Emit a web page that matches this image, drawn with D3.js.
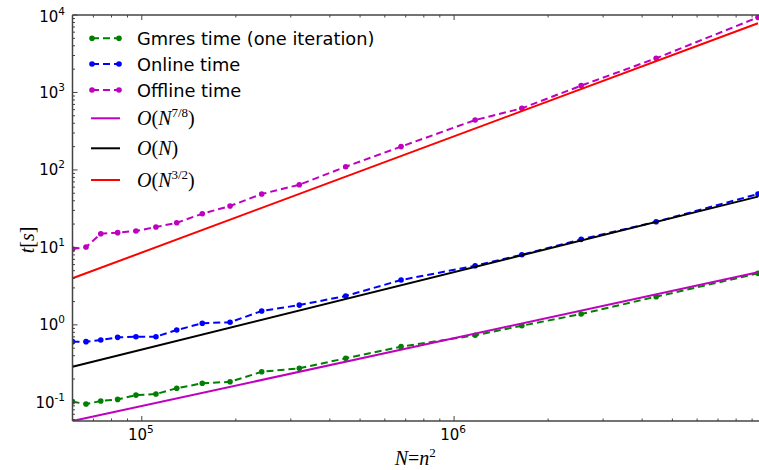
<!DOCTYPE html>
<html>
<head>
<meta charset="utf-8">
<script src="https://cdn.jsdelivr.net/npm/d3@7"></script>
<style>
  html, body { margin: 0; padding: 0; background: #fff; }
  svg { display: block; }
</style>
</head>
<body>
<svg id="chart" width="759" height="470"></svg>
<script>
// Problem size N = n^2 at each run
const sizeN = [60000, 66300, 73900, 83700, 95800, 111000, 129400, 156200, 191700,
               242100, 319500, 449900, 676500, 1168000, 1648000, 2552000, 4436000, 9400000];

// Measured times in seconds
const gmresTime   = [0.102, 0.095, 0.104, 0.109, 0.124, 0.128, 0.152, 0.176, 0.184,
                     0.248, 0.275, 0.370, 0.523, 0.733, 0.975, 1.38, 2.31, 4.62];
const onlineTime  = [0.607, 0.607, 0.637, 0.690, 0.703, 0.703, 0.857, 1.05, 1.08,
                     1.51, 1.80, 2.36, 3.79, 5.80, 8.05, 12.7, 21.4, 48.9];
const offlineTime = [9.53, 10.1, 15.0, 15.5, 16.3, 18.3, 20.8, 27.2, 34.2,
                     48.9, 64.4, 110, 200, 441, 624, 1225, 2760, 9330];

// Complexity guide lines: values at the two ends of the N range
const guideN   = [60000, 9400000];
const guide78  = [0.0574, 4.78];
const guide1   = [0.288, 45.2];
const guide32  = [3.99, 7826];

// Axis ticks (powers of ten)
const xTickExp = [5, 6];
const yTickExp = [-1, 0, 1, 2, 3, 4];

(function draw() {
  const svg = d3.select("#chart");
  const W = 759, H = 470;
  const pLeft = 72.5, pRight = 758, pTop = 15, pBottom = 421;

  const x = d3.scaleLog().domain([60000, 9400000]).range([pLeft, pRight]);
  const y = d3.scaleLog().domain([0.0574, 1e4]).range([pBottom, pTop]);

  svg.append("rect").attr("width", W).attr("height", H).attr("fill", "#fff");

  svg.append("clipPath").attr("id", "plotClip")
    .append("rect").attr("x", pLeft).attr("y", pTop)
    .attr("width", W - pLeft).attr("height", pBottom - pTop);

  const plot = svg.append("g").attr("clip-path", "url(#plotClip)");

  const line = d3.line().x(d => x(d[0])).y(d => y(d[1]));

  const series = [
    { name: "Gmres time (one iteration)", values: gmresTime, color: "#008000" },
    { name: "Online time", values: onlineTime, color: "#0000ff" },
    { name: "Offline time", values: offlineTime, color: "#bf00bf" }
  ];
  const guides = [
    { values: guide78, color: "#bf00bf", exp: "7/8" },
    { values: guide1, color: "#000000", exp: null },
    { values: guide32, color: "#ff0000", exp: "3/2" }
  ];

  // Measured series: dashed line with dot markers
  series.forEach(s => {
    const pts = sizeN.map((n, i) => [n, s.values[i]]);
    plot.append("path").datum(pts)
      .attr("d", line)
      .attr("fill", "none")
      .attr("stroke", s.color)
      .attr("stroke-width", 2)
      .attr("stroke-dasharray", "7,4");
    plot.selectAll(null).data(pts).enter().append("circle")
      .attr("cx", d => x(d[0])).attr("cy", d => y(d[1]))
      .attr("r", 2.8).attr("fill", s.color);
  });

  // Complexity guide lines
  guides.forEach(g => {
    const pts = guideN.map((n, i) => [n, g.values[i]]);
    plot.append("path").datum(pts)
      .attr("d", line)
      .attr("fill", "none")
      .attr("stroke", g.color)
      .attr("stroke-width", 2);
  });

  // Frame
  const axisColor = "#444";
  svg.append("line").attr("x1", pLeft).attr("x2", pLeft).attr("y1", pTop).attr("y2", pBottom)
    .attr("stroke", axisColor).attr("stroke-width", 1.5);
  svg.append("line").attr("x1", pLeft).attr("x2", W).attr("y1", pBottom).attr("y2", pBottom)
    .attr("stroke", axisColor).attr("stroke-width", 1.5);
  svg.append("line").attr("x1", pLeft).attr("x2", W).attr("y1", pTop).attr("y2", pTop)
    .attr("stroke", axisColor).attr("stroke-width", 1.5);

  // Minor and major ticks, pointing inward
  const ticks = svg.append("g").attr("stroke", axisColor).attr("stroke-width", 1);
  const xMinor = [], yMinor = [];
  for (let e = 4; e <= 6; e++) for (let m = 2; m <= 9; m++) {
    const v = m * Math.pow(10, e);
    if (v >= 60000 && v <= 9400000) xMinor.push(v);
  }
  for (let e = -2; e <= 3; e++) for (let m = 2; m <= 9; m++) {
    const v = m * Math.pow(10, e);
    if (v >= 0.0574 && v <= 1e4) yMinor.push(v);
  }
  xMinor.forEach(v => {
    ticks.append("line").attr("x1", x(v)).attr("x2", x(v)).attr("y1", pBottom).attr("y2", pBottom - 2.5);
    ticks.append("line").attr("x1", x(v)).attr("x2", x(v)).attr("y1", pTop).attr("y2", pTop + 2.5);
  });
  xTickExp.forEach(e => {
    const v = Math.pow(10, e);
    ticks.append("line").attr("x1", x(v)).attr("x2", x(v)).attr("y1", pBottom).attr("y2", pBottom - 5);
    ticks.append("line").attr("x1", x(v)).attr("x2", x(v)).attr("y1", pTop).attr("y2", pTop + 5);
  });
  yMinor.forEach(v => {
    ticks.append("line").attr("x1", pLeft).attr("x2", pLeft + 2.5).attr("y1", y(v)).attr("y2", y(v));
  });
  yTickExp.forEach(e => {
    const v = Math.pow(10, e);
    ticks.append("line").attr("x1", pLeft).attr("x2", pLeft + 5).attr("y1", y(v)).attr("y2", y(v));
  });

  // Tick labels of the form 10^k
  const tickFont = "DejaVu Sans, sans-serif";
  function powerLabel(sel, e) {
    sel.append("tspan").text("10");
    sel.append("tspan").attr("dy", -7).attr("font-size", 10.5).text(String(e));
  }
  xTickExp.forEach(e => {
    const t = svg.append("text")
      .attr("x", x(Math.pow(10, e)) - 1).attr("y", 439.5)
      .attr("text-anchor", "middle")
      .attr("font-family", tickFont).attr("font-size", 15).attr("fill", "#000");
    powerLabel(t, e);
  });
  yTickExp.forEach(e => {
    const yy = y(Math.pow(10, e)) + 5.5 + (e === 4 ? 1.5 : 0);
    const t = svg.append("text")
      .attr("x", 65).attr("y", yy)
      .attr("text-anchor", "end")
      .attr("font-family", tickFont).attr("font-size", 15).attr("fill", "#000");
    powerLabel(t, e);
  });

  // Axis titles
  const mathFont = "Liberation Serif, DejaVu Serif, serif";
  const xt = svg.append("text")
    .attr("x", (pLeft + pRight) / 2).attr("y", 465)
    .attr("text-anchor", "middle")
    .attr("font-family", mathFont).attr("font-size", 20).attr("fill", "#000");
  xt.append("tspan").attr("font-style", "italic").text("N");
  xt.append("tspan").text("=");
  xt.append("tspan").attr("font-style", "italic").text("n");
  xt.append("tspan").attr("dy", -8).attr("font-size", 13).text("2");

  const yt = svg.append("text")
    .attr("transform", "translate(34,240) rotate(-90)")
    .attr("text-anchor", "middle")
    .attr("font-family", mathFont).attr("font-size", 20).attr("fill", "#000");
  yt.append("tspan").attr("font-style", "italic").text("t");
  yt.append("tspan").text("[");
  yt.append("tspan").attr("font-style", "italic").text("s");
  yt.append("tspan").text("]");

  // Legend (no frame)
  const legend = svg.append("g");
  const hx0 = 92, hx1 = 119, tx = 137;
  const rowY = [38.3, 64, 90, 118.3, 148.3, 180];
  series.forEach((s, i) => {
    const yy = rowY[i];
    legend.append("line").attr("x1", hx0).attr("x2", hx1).attr("y1", yy).attr("y2", yy)
      .attr("stroke", s.color).attr("stroke-width", 2).attr("stroke-dasharray", "7,4");
    [hx0, hx1].forEach(cx => legend.append("circle").attr("cx", cx).attr("cy", yy)
      .attr("r", 2.8).attr("fill", s.color));
    legend.append("text").attr("x", tx).attr("y", yy + 6.5)
      .attr("font-family", tickFont).attr("font-size", 17.8).attr("fill", "#000")
      .text(s.name);
  });
  guides.forEach((g, j) => {
    const yy = rowY[3 + j];
    legend.append("line").attr("x1", hx0 - 1).attr("x2", hx1 + 1).attr("y1", yy).attr("y2", yy)
      .attr("stroke", g.color).attr("stroke-width", 2);
    const t = legend.append("text").attr("x", tx).attr("y", yy + 7)
      .attr("font-family", mathFont).attr("font-size", 20).attr("fill", "#000");
    t.append("tspan").attr("font-style", "italic").text("O");
    t.append("tspan").text("(");
    t.append("tspan").attr("font-style", "italic").text("N");
    if (g.exp) {
      t.append("tspan").attr("dy", -8).attr("font-size", 13).text(g.exp);
      t.append("tspan").attr("dy", 8).text(")");
    } else {
      t.append("tspan").text(")");
    }
  });
})();
</script>
</body>
</html>
